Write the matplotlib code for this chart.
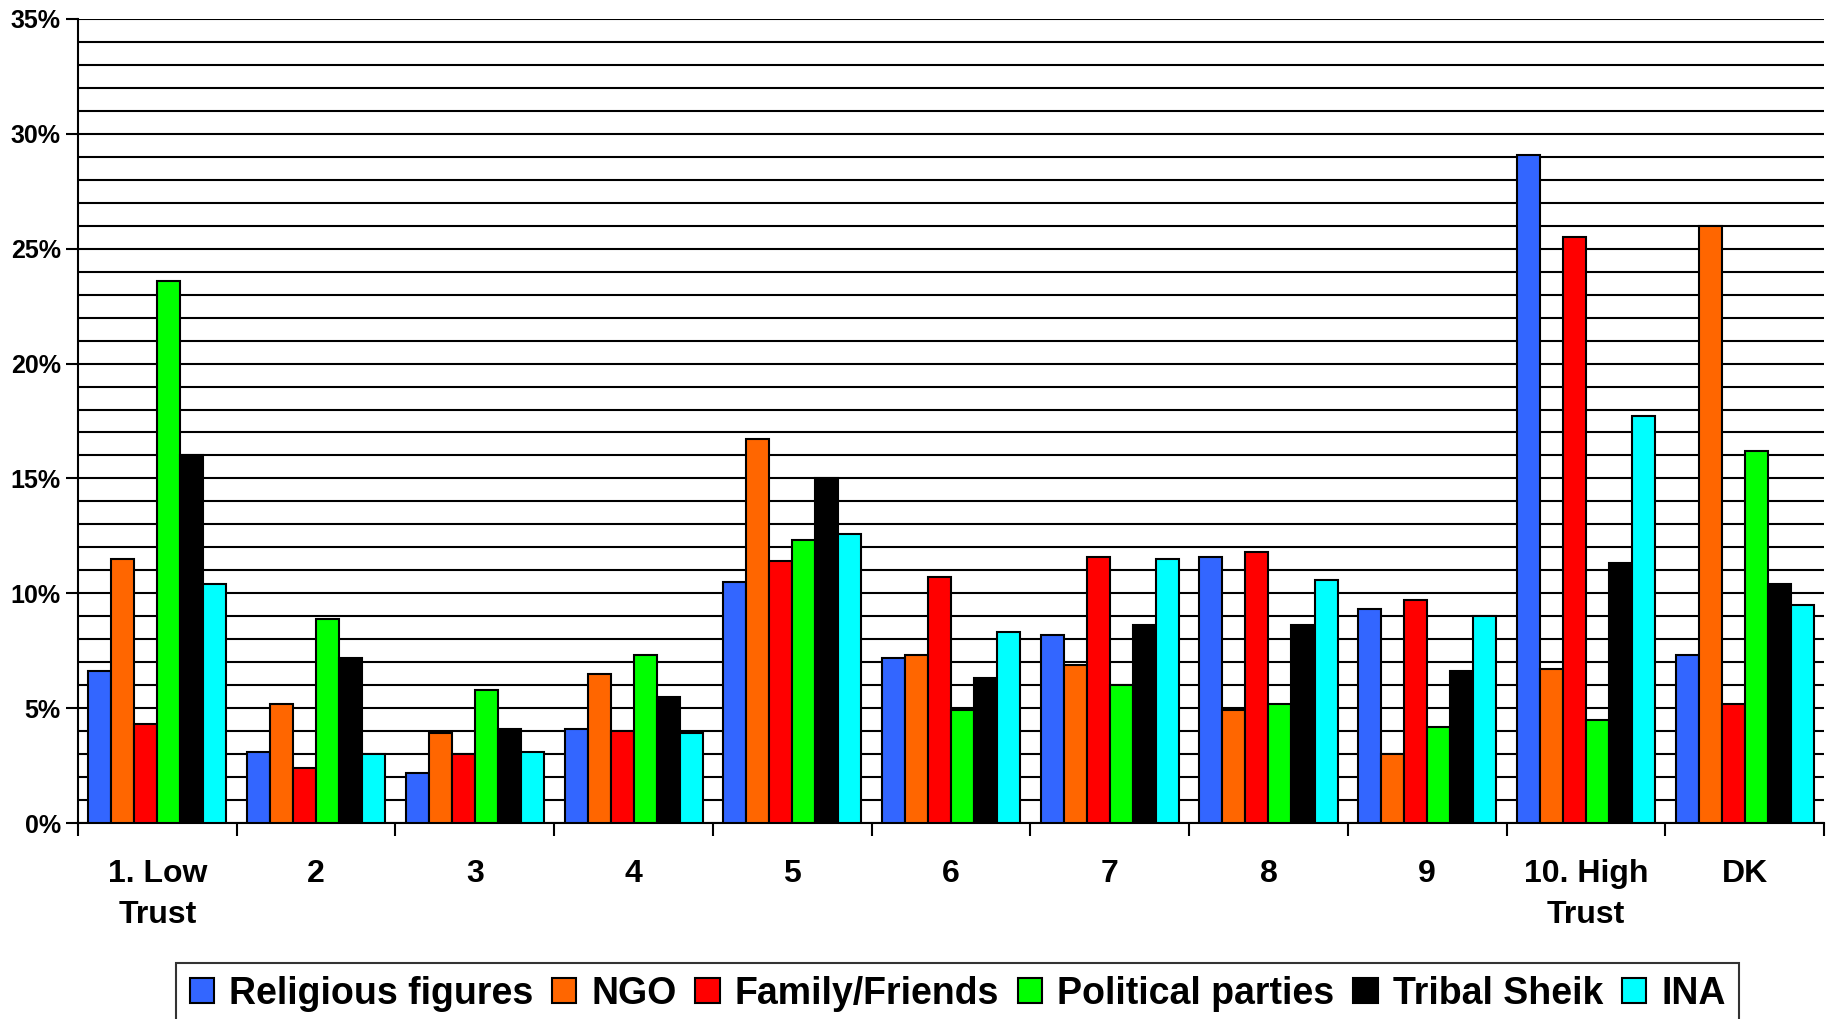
import numpy as np
import matplotlib.pyplot as plt
from matplotlib.ticker import MultipleLocator, FuncFormatter

# trust level categories
categories = ['1. Low\nTrust', '2', '3', '4', '5', '6', '7', '8', '9', '10. High\nTrust', 'DK']

# percentages
religious = [6.6, 3.1, 2.2, 4.1, 10.5, 7.2, 8.2, 11.6, 9.3, 29.1, 7.3]
ngo = [11.5, 5.2, 3.9, 6.5, 16.7, 7.3, 6.9, 4.9, 3.0, 6.7, 26.0]
family = [4.3, 2.4, 3.0, 4.0, 11.4, 10.7, 11.6, 11.8, 9.7, 25.5, 5.2]
political = [23.6, 8.9, 5.8, 7.3, 12.3, 4.9, 6.0, 5.2, 4.2, 4.5, 16.2]
tribal = [16.0, 7.2, 4.1, 5.5, 15.0, 6.3, 8.6, 8.6, 6.6, 11.3, 10.4]
ina = [10.4, 3.0, 3.1, 3.9, 12.6, 8.3, 11.5, 10.6, 9.0, 17.7, 9.5]

series = [religious, ngo, family, political, tribal, ina]
names = ['Religious figures', 'NGO', 'Family/Friends', 'Political parties', 'Tribal Sheik', 'INA']
colors = ['#3366FF', '#FF6600', '#FF0000', '#00FF00', '#000000', '#00FFFF']

plt.rcParams['font.family'] = ['Liberation Sans', 'DejaVu Sans']
plt.rcParams['font.weight'] = 'bold'

fig = plt.figure(figsize=(18.31, 10.19), dpi=100)
ax = fig.add_axes([0.0426, 0.1923, 0.9536, 0.7891])

x = np.arange(len(categories))
w = 0.145
for i, (vals, name, col) in enumerate(zip(series, names, colors)):
    ax.bar(x + (i - 2.5) * w, vals, width=w, color=col, edgecolor='black',
           linewidth=1.5, label=name, zorder=3)

ax.set_ylim(0, 35)
ax.set_xlim(-0.5, len(categories) - 0.5)
ax.yaxis.set_major_locator(MultipleLocator(5))
ax.yaxis.set_minor_locator(MultipleLocator(1))
ax.yaxis.set_major_formatter(FuncFormatter(lambda v, p: '%d%%' % v))
ax.grid(axis='y', which='both', color='black', linewidth=1.5, zorder=0)

ax.set_xticks(x)
ax.set_xticklabels(categories, fontsize=23, fontweight='bold', linespacing=1.45)
ax.set_xticks(np.arange(len(categories) + 1) - 0.5, minor=True)
ax.tick_params(axis='x', which='major', length=0, pad=26)
ax.tick_params(axis='x', which='minor', length=9, width=1.5)
ax.tick_params(axis='y', which='major', length=9, width=1.5, labelsize=18)
ax.tick_params(axis='y', which='minor', length=0)
for lab in ax.get_yticklabels():
    lab.set_fontweight('bold')

for s in ['top', 'right']:
    ax.spines[s].set_visible(False)
for s in ['left', 'bottom']:
    ax.spines[s].set_linewidth(1.5)

leg = fig.legend(loc='upper center', bbox_to_anchor=(0.523, 0.055), ncol=6,
                 frameon=True, fancybox=False, edgecolor='black',
                 handlelength=0.65, handleheight=0.65, handletextpad=0.4,
                 columnspacing=0.5, borderpad=0.35, borderaxespad=0,
                 prop={'family': 'Liberation Sans', 'weight': 'bold', 'size': 27})
leg.get_frame().set_linewidth(1.5)

fig.savefig('out.png', dpi=100)
